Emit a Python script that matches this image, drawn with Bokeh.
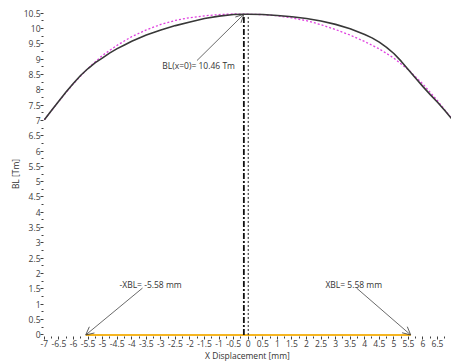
from bokeh.plotting import figure
from bokeh.models import FixedTicker, Arrow, OpenHead, Label
from bokeh.embed import file_html
from bokeh.resources import INLINE

# Measured BL curve
bl_x = [-7.0, -6.75, -6.5, -6.25, -6.0, -5.75, -5.5, -5.25, -5.0, -4.75, -4.5, -4.25, -4.0,
        -3.5, -3.0, -2.5, -2.0, -1.5, -1.0, -0.5, -0.15, 0.0, 0.5, 1.0, 1.5, 2.0, 2.5, 3.0,
        3.5, 4.0, 4.25, 4.5, 4.75, 5.0, 5.25, 5.5, 5.75, 6.0, 6.25, 6.5, 6.75, 6.98]
bl_y = [7.02, 7.33, 7.63, 7.93, 8.21, 8.47, 8.69, 8.88, 9.04, 9.20, 9.34, 9.46, 9.58,
        9.78, 9.95, 10.09, 10.21, 10.32, 10.40, 10.45, 10.46, 10.46, 10.45, 10.42, 10.38, 10.32, 10.24, 10.13,
        9.99, 9.80, 9.69, 9.55, 9.38, 9.18, 8.93, 8.65, 8.37, 8.10, 7.84, 7.59, 7.32, 7.06]

# Fitted (dotted magenta) curve
fit_x = [-7.0, -6.5, -6.0, -5.5, -5.0, -4.5, -4.0, -3.5, -3.0, -2.5, -2.0, -1.5, -1.0, -0.5,
         0.0, 0.5, 1.0, 1.5, 2.0, 2.5, 3.0, 3.5, 4.0, 4.5, 5.0, 5.5, 6.0, 6.5, 7.0]
fit_y = [7.02, 7.63, 8.20, 8.70, 9.12, 9.45, 9.73, 9.95, 10.13, 10.26, 10.35, 10.41, 10.45, 10.47,
         10.46, 10.45, 10.41, 10.34, 10.25, 10.12, 9.96, 9.78, 9.57, 9.33, 9.03, 8.65, 8.18, 7.64, 7.04]

peak_x = -0.15
peak_bl = 10.46
xbl = 5.58

x_ticks = [-7, -6.5, -6, -5.5, -5, -4.5, -4, -3.5, -3, -2.5, -2, -1.5, -1, -0.5, 0,
           0.5, 1, 1.5, 2, 2.5, 3, 3.5, 4, 4.5, 5, 5.5, 6, 6.5]
x_tick_labels = ["-7", "-6.5", "-6", "-5.5", "-5", "-4.5", "-4", "-3.5", "-3", "-2.5", "-2", "-1.5",
                 "-1", "-0.5", "0", "0.5", "1", "1.5", "2", "2.5", "3", "3.5", "4", "4.5", "5",
                 "5.5", "6", "6.5"]
x_minor = [-6.75, -6.25, -5.75, -5.25, -4.75, -4.25, -3.75, -3.25, -2.75, -2.25, -1.75, -1.25,
           -0.75, -0.25, 0.25, 0.75, 1.25, 1.75, 2.25, 2.75, 3.25, 3.75, 4.25, 4.75, 5.25, 5.75,
           6.25, 6.75]
y_ticks = [0, 0.5, 1, 1.5, 2, 2.5, 3, 3.5, 4, 4.5, 5, 5.5, 6, 6.5, 7, 7.5, 8, 8.5, 9, 9.5, 10, 10.5]
y_tick_labels = ["0", "0.5", "1", "1.5", "2", "2.5", "3", "3.5", "4", "4.5", "5", "5.5", "6",
                 "6.5", "7", "7.5", "8", "8.5", "9", "9.5", "10", "10.5"]
y_minor = [0.25, 0.75, 1.25, 1.75, 2.25, 2.75, 3.25, 3.75, 4.25, 4.75, 5.25, 5.75, 6.25, 6.75,
           7.25, 7.75, 8.25, 8.75, 9.25, 9.75, 10.25]

FONT = "Open Sans"
TXT = "#333333"

p = figure(width=451, height=363, output_backend="svg", toolbar_location=None,
           x_range=(-7.03, 6.98), y_range=(-0.05, 10.55),
           min_border_left=43, min_border_right=0, min_border_top=11, min_border_bottom=27)
p.outline_line_color = None
p.grid.visible = False
p.background_fill_color = "white"

for ax in (p.xaxis[0], p.yaxis[0]):
    ax.axis_line_color = None
    ax.major_tick_line_color = "#404040"
    ax.minor_tick_line_color = "#404040"
    ax.major_tick_out = 3
    ax.major_tick_in = 0
    ax.minor_tick_out = 2
    ax.minor_tick_in = 0
    ax.major_label_text_font = FONT
    ax.major_label_text_font_size = "8.5px"
    ax.major_label_text_color = "#404040"
    ax.major_label_standoff = 0
    ax.axis_label_text_font = FONT
    ax.axis_label_text_font_size = "8.5px"
    ax.axis_label_text_font_style = "normal"
    ax.axis_label_text_color = TXT
    ax.axis_label_standoff = 0

p.xaxis.ticker = FixedTicker(ticks=x_ticks, minor_ticks=x_minor)
p.xaxis.major_label_overrides = dict(zip(x_ticks, x_tick_labels))
p.yaxis.ticker = FixedTicker(ticks=y_ticks, minor_ticks=y_minor)
p.yaxis.major_label_overrides = dict(zip(y_ticks, y_tick_labels))
p.xaxis.axis_label = "X Displacement [mm]"
p.yaxis.axis_label = "BL [Tm]"

# Orange baseline between -XBL and XBL
p.line([-xbl, xbl], [0, 0], line_color="#f5b521", line_width=2)

# Vertical markers
p.segment(x0=[0], y0=[0], x1=[0], y1=[peak_bl], line_color="#222222", line_width=1, line_dash="2 2")
p.segment(x0=[peak_x], y0=[0], x1=[peak_x], y1=[peak_bl], line_color="#111111", line_width=1.8,
          line_dash="6 2 2 2")

# Curves
p.line(fit_x, fit_y, line_color="#e040e0", line_width=1.3, line_dash="2 2")
p.line(bl_x, bl_y, line_color="#383838", line_width=1.6)

# Annotations
def arrow(xs, ys, xe, ye):
    p.add_layout(Arrow(end=OpenHead(size=8, line_width=0.8, line_color="#333333"),
                       x_start=xs, y_start=ys, x_end=xe, y_end=ye,
                       line_width=0.8, line_color="#444444"))

arrow(-1.76, 8.95, peak_x, peak_bl)
arrow(-3.63, 1.53, -xbl, 0)
arrow(3.72, 1.53, xbl, 0)

for tx, ty, t in [(-2.95, 8.79, f"BL(x=0)= {peak_bl} Tm"),
                  (-4.42, 1.66, f"-XBL= -{xbl} mm"),
                  (2.65, 1.66, f"XBL= {xbl} mm")]:
    p.add_layout(Label(x=tx, y=ty, text=t, text_font=FONT, text_font_size="8.5px",
                       text_color=TXT, text_baseline="middle", text_align="left"))

open("out.html", "w").write(file_html(p, INLINE))
